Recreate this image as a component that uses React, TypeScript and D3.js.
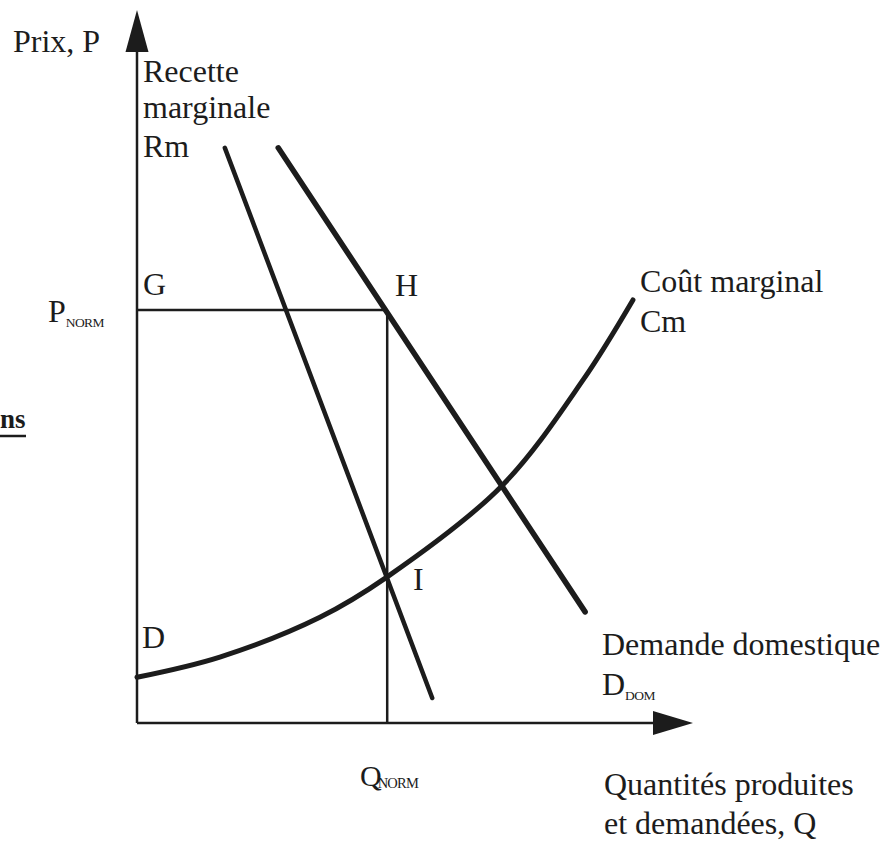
import React from "react";
import * as d3 from "d3";

// Chart values (abstract units: quantity Q, price P)
const qDomain = [0, 10];
const pDomain = [0, 12];

const recetteMarginale = [
  { q: 1.58, p: 9.68 },
  { q: 5.31, p: 0.42 },
];
const demandeDomestique = [
  { q: 2.54, p: 9.68 },
  { q: 8.06, p: 1.87 },
];
const coutMarginal = [
  { q: 0, p: 0.77 },
  { q: 1.49, p: 1.11 },
  { q: 3.29, p: 1.78 },
  { q: 4.5, p: 2.46 },
  { q: 6.56, p: 3.99 },
  { q: 8.02, p: 5.77 },
  { q: 8.92, p: 7.12 },
];
const qNorm = 4.5;
const pNorm = 6.95;

const WIDTH = 893;
const HEIGHT = 841;
const INK = "#1c1c1c";
const FONT = "'Liberation Serif', 'Times New Roman', serif";

const App = () => {
  // Scales
  const x = d3.scaleLinear().domain(qDomain).range([137, 693]);
  const y = d3.scaleLinear().domain(pDomain).range([723, 10]);

  const line = d3
    .line<{ q: number; p: number }>()
    .x(d => x(d.q))
    .y(d => y(d.p));
  const smooth = d3
    .line<{ q: number; p: number }>()
    .x(d => x(d.q))
    .y(d => y(d.p))
    .curve(d3.curveCatmullRom.alpha(0.5));

  const x0 = x(0);
  const y0 = y(0);
  const xEnd = x(qDomain[1]);
  const yEnd = y(pDomain[1]);

  // arrow heads
  const yArrow = `M${x0 - 11.5},${yEnd + 42} L${x0},${yEnd} L${x0 + 11.5},${yEnd + 42} Z`;
  const xArrow = `M${xEnd - 40},${y0 - 12} L${xEnd},${y0} L${xEnd - 40},${y0 + 12} Z`;

  const txt = { fontFamily: FONT, fontSize: 32, fill: INK } as const;
  const sub = { fontSize: 13.5, letterSpacing: -0.6 } as const;

  return (
    <svg
      width={WIDTH}
      height={HEIGHT}
      style={{ position: "absolute", left: 0, top: 0, background: "#fff" }}
    >
      {/* axes */}
      <line x1={x0} y1={y0} x2={x0} y2={yEnd + 30} stroke={INK} strokeWidth={2.5} />
      <line x1={x0} y1={y0} x2={xEnd - 30} y2={y0} stroke={INK} strokeWidth={2.5} />
      <path d={yArrow} fill={INK} />
      <path d={xArrow} fill={INK} />

      {/* guides G-H and Q norm */}
      <line x1={x0} y1={y(pNorm)} x2={x(qNorm)} y2={y(pNorm)} stroke={INK} strokeWidth={2.5} />
      <line x1={x(qNorm)} y1={y(pNorm)} x2={x(qNorm)} y2={y0} stroke={INK} strokeWidth={2.5} />

      {/* curves */}
      <path d={line(recetteMarginale) ?? ""} fill="none" stroke={INK} strokeWidth={4.5} strokeLinecap="round" />
      <path d={line(demandeDomestique) ?? ""} fill="none" stroke={INK} strokeWidth={5.5} strokeLinecap="round" />
      <path d={smooth(coutMarginal) ?? ""} fill="none" stroke={INK} strokeWidth={5} strokeLinecap="round" />

      {/* labels */}
      <g style={txt}>
        <text x={13} y={52}>Prix, P</text>
        <text x={143} y={82}>Recette</text>
        <text x={143} y={118}>marginale</text>
        <text x={143} y={157}>Rm</text>
        <text x={143} y={295}>G</text>
        <text x={395} y={296}>H</text>
        <text x={48} y={322}>
          P<tspan style={sub} dy={5}>NORM</tspan>
        </text>
        <text x={413} y={590}>I</text>
        <text x={142} y={648}>D</text>
        <text x={640} y={292}>Coût marginal</text>
        <text x={640} y={332}>Cm</text>
        <text x={602} y={655}>Demande domestique</text>
        <text x={602} y={695}>
          D<tspan style={sub} dy={5}>DOM</tspan>
        </text>
        <text x={360} y={786} style={{ fontSize: 30 }}>
          Q<tspan style={{ fontSize: 14.5, letterSpacing: -0.8 }} dx={-4} dy={2}>NORM</tspan>
        </text>
        <text x={604} y={795}>Quantités produites</text>
        <text x={604} y={834}>et demandées, Q</text>
        <text x={0} y={428} fontWeight="bold" style={{ fontSize: 27 }}>ns</text>
      </g>
      <line x1={0} y1={436} x2={26} y2={436} stroke={INK} strokeWidth={2.5} />
    </svg>
  );
};

export default App;
